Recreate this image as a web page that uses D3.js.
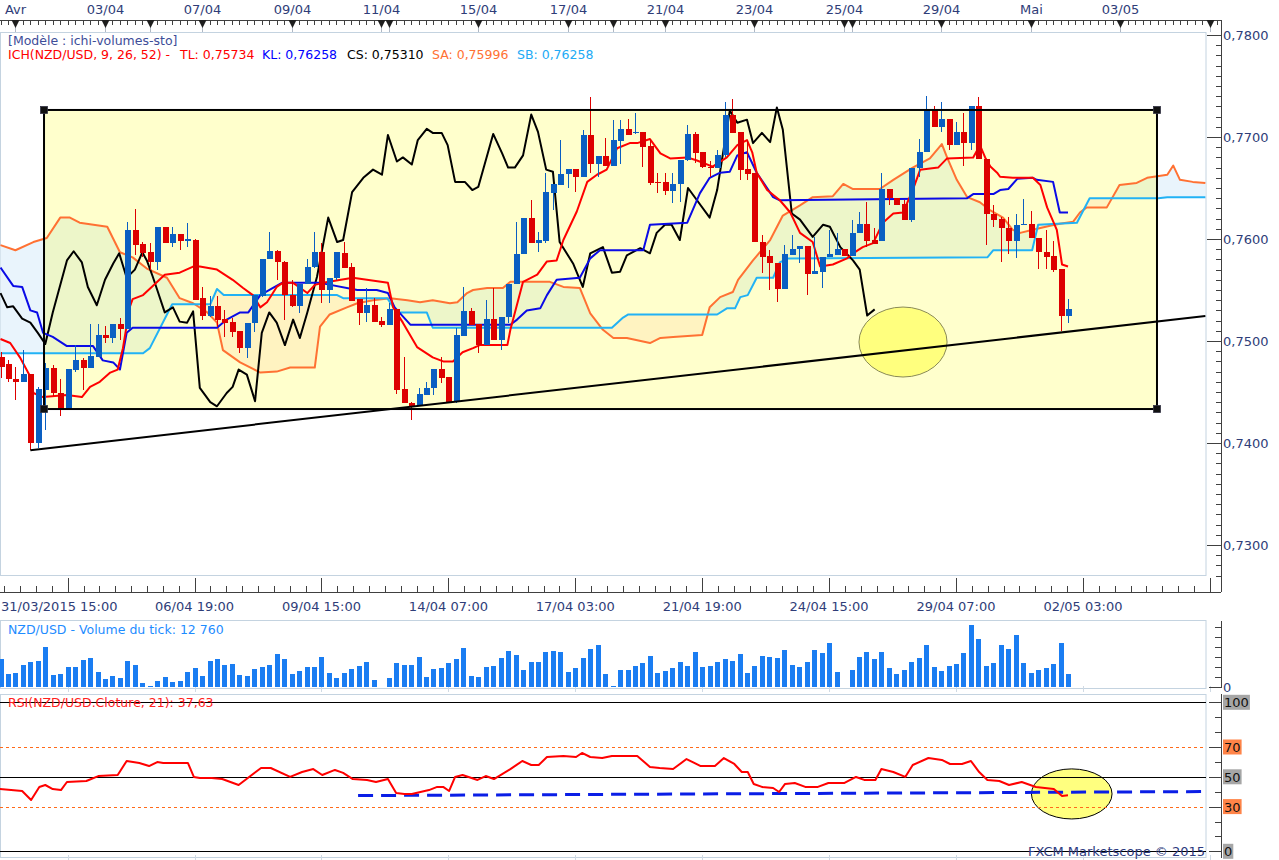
<!DOCTYPE html>
<html>
<head>
<meta charset="utf-8">
<script src="https://cdn.jsdelivr.net/npm/d3@7/dist/d3.min.js"></script>
<style>
body { margin: 0; background: #fff; }
svg { display: block; font-family: "DejaVu Sans", Verdana, sans-serif; }
</style>
</head>
<body>
<svg id="chart" width="1279" height="860"></svg>
<script>
// NZD/USD H4 candles, index 0 = first candle on screen
let candleOpen = [
  .7484,.7477,.7463,.7460,.7468,.7400,.7452,.7474,.7449,.7432,
  .7472,.7481,.7474,.7484,.7506,.7503,.7517,.7512,.7609,.7595,
  .7587,.7577,.7612,.7596,.7605,.7599,.7599,.7542,.7525,.7534,
  .7522,.7519,.7510,.7493,.7518,.7544,.7580,.7588,.7577,.7545,
  .7534,.7556,.7573,.7587,.7550,.7562,.7586,.7573,.7541,.7527,
  .7535,.7520,.7516,.7531,.7453,.7439,.7437,.7447,.7454,.7473,
  .7465,.7440,.7505,.7529,.7517,.7496,.7522,.7501,.7524,.7556,
  .7585,.7621,.7596,.7598,.7645,.7653,.7664,.7669,.7661,.7702,
  .7674,.7681,.7672,.7696,.7708,.7704,.7705,.7691,.7656,.7656,
  .7647,.7654,.7677,.7703,.7685,.7671,.7670,.7682,.7722,.7705,
  .7669,.7665,.7597,.7583,.7576,.7551,.7584,.7590,.7593,.7566,
  .7568,.7582,.7584,.7590,.7583,.7606,.7615,.7599,.7598,.7649,
  .7640,.7634,.7619,.7670,.7685,.7726,.7710,.7718,.7692,.7705,
  .7694,.7730,.7678,.7625,.7620,.7611,.7598,.7614,.7615,.7601,
  .7587,.7583,.7571,.7525
];
let candleHigh = [
  .7489,.7481,.7475,.7491,.7468,.7455,.7478,.7476,.7463,.7473,
  .7496,.7483,.7517,.7517,.7515,.7517,.7523,.7617,.7629,.7597,
  .7596,.7612,.7612,.7612,.7605,.7616,.7600,.7553,.7544,.7544,
  .7530,.7523,.7510,.7518,.7545,.7580,.7607,.7589,.7578,.7560,
  .7556,.7580,.7607,.7596,.7562,.7587,.7597,.7576,.7541,.7552,
  .7542,.7524,.7537,.7531,.7484,.7440,.7454,.7460,.7473,.7484,
  .7465,.7513,.7553,.7532,.7517,.7540,.7552,.7524,.7556,.7617,
  .7621,.7638,.7607,.7665,.7654,.7697,.7669,.7669,.7707,.7739,
  .7681,.7699,.7717,.7717,.7718,.7724,.7705,.7698,.7665,.7665,
  .7665,.7677,.7712,.7705,.7685,.7676,.7687,.7734,.7737,.7705,
  .7697,.7665,.7604,.7589,.7576,.7594,.7604,.7593,.7593,.7602,
  .7582,.7609,.7606,.7590,.7619,.7626,.7636,.7611,.7665,.7649,
  .7640,.7638,.7670,.7698,.7740,.7730,.7734,.7718,.7715,.7724,
  .7730,.7739,.7678,.7633,.7622,.7622,.7625,.7639,.7627,.7601,
  .7609,.7598,.7571,.7541
];
let candleLow = [
  .7464,.7460,.7442,.7460,.7393,.7395,.7413,.7446,.7426,.7432,
  .7470,.7452,.7474,.7484,.7498,.7498,.7501,.7512,.7584,.7582,
  .7570,.7570,.7596,.7592,.7589,.7592,.7540,.7521,.7524,.7514,
  .7504,.7504,.7488,.7483,.7509,.7543,.7580,.7560,.7521,.7533,
  .7527,.7556,.7572,.7537,.7537,.7560,.7572,.7539,.7516,.7519,
  .7519,.7514,.7516,.7448,.7439,.7423,.7437,.7447,.7447,.7459,
  .7440,.7439,.7505,.7516,.7488,.7496,.7501,.7491,.7518,.7556,
  .7585,.7596,.7587,.7596,.7628,.7653,.7650,.7646,.7661,.7665,
  .7661,.7672,.7672,.7674,.7702,.7703,.7671,.7653,.7645,.7643,
  .7635,.7636,.7676,.7675,.7670,.7661,.7670,.7680,.7704,.7658,
  .7658,.7597,.7567,.7550,.7538,.7551,.7584,.7576,.7545,.7566,
  .7552,.7582,.7584,.7583,.7583,.7606,.7592,.7595,.7598,.7633,
  .7633,.7619,.7617,.7661,.7685,.7710,.7705,.7687,.7692,.7672,
  .7687,.7678,.7594,.7612,.7577,.7585,.7581,.7614,.7601,.7571,
  .7571,.7568,.7510,.7518
];
let candleClose = [
  .7475,.7463,.7460,.7468,.7400,.7453,.7474,.7449,.7432,.7473,
  .7481,.7474,.7485,.7506,.7503,.7517,.7512,.7609,.7594,.7586,
  .7577,.7612,.7596,.7605,.7598,.7600,.7540,.7525,.7534,.7521,
  .7518,.7509,.7493,.7518,.7545,.7580,.7588,.7577,.7545,.7534,
  .7556,.7573,.7587,.7550,.7562,.7587,.7572,.7539,.7527,.7535,
  .7519,.7516,.7531,.7452,.7439,.7435,.7448,.7454,.7473,.7464,
  .7440,.7506,.7529,.7516,.7496,.7522,.7501,.7524,.7556,.7585,
  .7621,.7596,.7599,.7646,.7654,.7664,.7669,.7661,.7702,.7674,
  .7681,.7672,.7697,.7708,.7702,.7705,.7690,.7655,.7655,.7647,
  .7654,.7677,.7703,.7684,.7671,.7670,.7682,.7722,.7704,.7668,
  .7664,.7597,.7582,.7576,.7551,.7585,.7590,.7593,.7566,.7569,
  .7582,.7585,.7590,.7583,.7606,.7615,.7598,.7595,.7649,.7640,
  .7633,.7619,.7670,.7685,.7726,.7710,.7718,.7692,.7705,.7694,
  .7730,.7678,.7625,.7619,.7611,.7598,.7614,.7615,.7601,.7587,
  .7582,.7570,.7525,.7531
];
let tickVolume = [
  28000,13000,14000,22000,25000,26000,40000,12000,13000,20000,
  20000,27000,29000,15000,8000,11000,9000,26000,22000,4000,
  1000,6000,10000,5000,6000,15000,19000,11000,26000,28000,
  22000,23000,12000,11000,18000,20000,22000,33000,28000,13000,
  16000,20000,20000,30000,14000,9000,14000,18000,21000,25000,
  7000,500,9000,24000,22000,22000,30000,10000,18000,19000,
  24000,28000,39000,11000,10000,20000,21000,29000,36000,32000,
  17000,25000,25000,35000,36000,35000,15000,19000,29000,38000,
  42000,13000,1000,17000,17000,21000,
  24000,31000,14000,16000,19000,25000,21000,35000,20000,21000,
  25000,28000,26000,33000,14000,21000,31000,30000,29000,37000,
  22000,20000,25000,37000,34000,44000,15000,500,17000,30000,
  35000,28000,35000,19000,13000,17000,25000,29000,42000,20000,
  16000,21000,23000,34000,62000,48000,21000,24000,42000,38000,
  52000,24000,14000,17000,19000,23000,44000,12760
];

// ichimoku lines as [candle index, price]
let tenkan = [[0,.7502],[1.3,.7498],[2.6,.7484],[4.0,.7465],[4.4,.7449],[5.7,.7445],[8.9,.7447],[10.9,.7445],[12.0,.7455],[13.3,.7460],[14.7,.7469],[15.7,.7472],[16.4,.7493],[17.3,.7533],[17.7,.7541],[19.1,.7545],[20.4,.7554],[22.0,.7565],[24.0,.7567],[25.8,.7573],[26.7,.7573],[29.0,.7570],[31.1,.7560],[32.5,.7552],[33.8,.7545],[34.8,.7533],[35.7,.7538],[37.0,.7553],[37.8,.7557],[39.2,.7557],[41.1,.7547],[42.1,.7555],[43.2,.7557],[47.2,.7562],[51.9,.7557],[52.6,.7533],[53.9,.7518],[55.8,.7494],[57.9,.7484],[59.3,.7480],[60.6,.7480],[61.9,.7489],[63.3,.7493],[64.2,.7496],[67.9,.7496],[68.3,.7511],[70.0,.7558],[71.9,.7565],[73.2,.7578],[74.5,.7579],[75.4,.7599],[77.2,.7627],[78.6,.7656],[79.9,.7663],[81.2,.7668],[82.6,.7689],[84.3,.7694],[85.3,.7694],[87.0,.7698],[88.4,.7684],[89.7,.7679],[92.0,.7680],[93.3,.7677],[95.4,.7671],[97.3,.7680],[98.7,.7692],[100.0,.7697],[100.7,.7685],[101.3,.7665],[102.7,.7648],[104.4,.7638],[105.8,.7626],[107.1,.7606],[108.8,.7597],[109.8,.7573],[111.5,.7575],[113.4,.7581],[114.2,.7586],[115.5,.7592],[116.9,.7596],[118.2,.7616],[119.6,.7625],[120.9,.7626],[122.2,.7648],[123.2,.7668],[125.6,.7670],[126.8,.7679],[130.3,.7680],[131.2,.7692],[131.9,.7680],[132.6,.7671],[133.5,.7665],[133.9,.7661],[135.6,.7660],[138.3,.7660],[139.3,.7653],[140.2,.7631],[141.5,.7609],[142.2,.7575],[143.0,.7573]];
let kijun = [[0,.7572],[1.7,.7554],[2.9,.7553],[4.0,.7530],[4.9,.7528],[5.7,.7508],[7.0,.7504],[8.9,.7495],[12.4,.7495],[13.7,.7481],[15.1,.7479],[16.0,.7472],[16.9,.7508],[17.7,.7513],[29.0,.7513],[30.3,.7521],[32.1,.7528],[33.2,.7528],[34.8,.7545],[36.5,.7552],[37.7,.7557],[42.8,.7557],[47.8,.7550],[50.4,.7550],[51.9,.7547],[52.8,.7533],[54.9,.7516],[68.3,.7516],[69.2,.7521],[70.5,.7530],[72.3,.7532],[73.2,.7545],[74.5,.7560],[77.6,.7562],[79.0,.7581],[80.3,.7589],[86.1,.7589],[87.0,.7614],[92.0,.7616],[93.7,.7645],[95.0,.7660],[96.4,.7665],[97.7,.7666],[98.7,.7682],[100.0,.7685],[101.3,.7665],[103.5,.7641],[104.4,.7638],[129.5,.7640],[130.3,.7644],[133.0,.7644],[133.9,.7648],[135.0,.7649],[136.2,.7659],[138.3,.7660],[138.8,.7658],[141.0,.7656],[141.9,.7626],[143.0,.7626]];
let spanA = [[0,.7594],[2.0,.7589],[4.4,.7597],[6.2,.7601],[8.0,.7621],[9.3,.7621],[10.6,.7616],[14.3,.7612],[16.0,.7587],[17.7,.7582],[19.6,.7571],[22.3,.7562],[24.0,.7542],[25.8,.7537],[27.7,.7528],[29.0,.7518],[29.8,.7491],[32.1,.7479],[34.8,.7469],[37.0,.7470],[38.8,.7474],[42.1,.7474],[42.8,.7514],[44.1,.7526],[46.4,.7533],[47.8,.7537],[49.9,.7540],[52.2,.7542],[54.5,.7540],[56.2,.7538],[57.9,.7540],[60.2,.7537],[61.2,.7538],[62.5,.7547],[63.3,.7550],[65.2,.7552],[67.3,.7552],[68.3,.7558],[73.6,.7558],[75.4,.7553],[77.6,.7552],[79.0,.7527],[80.7,.7511],[82.1,.7503],[83.9,.7503],[87.0,.7498],[88.4,.7503],[90.1,.7504],[94.0,.7506],[95.0,.7533],[96.4,.7543],[98.1,.7548],[98.8,.7560],[100.8,.7579],[103.1,.7599],[104.8,.7623],[107.1,.7633],[108.8,.7641],[111.5,.7642],[112.9,.7654],[114.2,.7649],[117.8,.7649],[119.6,.7658],[122.2,.7670],[124.5,.7679],[126.1,.7693],[126.8,.7680],[128.1,.7658],[129.5,.7641],[131.2,.7636],[132.6,.7628],[134.3,.7621],[135.6,.7609],[136.6,.7606],[138.3,.7609],[140.6,.7613],[141.9,.7615],[143.7,.7617],[144.6,.7626],[145.5,.7631],[148.2,.7631],[149.9,.7653],[152.2,.7655],[153.6,.7660],[156.3,.7663],[157.1,.7672],[158.0,.7658],[159.7,.7656],[161.4,.7655]];
let spanB = [[0,.7488],[19.1,.7488],[20.0,.7493],[23.0,.7536],[28.1,.7536],[29.0,.7551],[29.9,.7545],[45.1,.7545],[45.9,.7542],[51.8,.7542],[53.1,.7528],[57.1,.7528],[57.9,.7513],[81.9,.7513],[83.4,.7523],[84.1,.7526],[96.0,.7526],[97.3,.7532],[98.4,.7532],[99.1,.7543],[100.1,.7545],[101.3,.7562],[103.5,.7562],[104.4,.7577],[105.5,.7581],[132.2,.7582],[133.0,.7589],[138.2,.7589],[139.0,.7614],[144.2,.7616],[145.9,.7640],[155.1,.7640],[156.3,.7641],[161.4,.7641]];
let chikou = [[0,.7547],[0.9,.7533],[1.7,.7534],[2.9,.7522],[4.0,.7518],[5.0,.7508],[6.0,.7497],[7.0,.7528],[8.9,.7579],[9.8,.7588],[10.9,.7577],[11.7,.7553],[12.9,.7535],[14.0,.7560],[15.1,.7576],[15.9,.7586],[16.9,.7562],[18.0,.7570],[19.0,.7587],[19.6,.7579],[20.4,.7563],[21.0,.7550],[22.0,.7528],[23.1,.7533],[24.0,.7519],[25.0,.7518],[25.8,.7529],[26.7,.7454],[28.1,.7440],[29.0,.7436],[30.3,.7449],[31.1,.7455],[31.9,.7472],[33.0,.7467],[34.1,.7441],[35.0,.7508],[36.0,.7528],[37.0,.7518],[38.1,.7496],[39.2,.7521],[40.1,.7503],[41.1,.7528],[42.4,.7563],[43.9,.7621],[45.1,.7597],[45.9,.7599],[47.1,.7646],[48.6,.7660],[49.9,.7668],[51.1,.7663],[51.9,.7702],[53.1,.7676],[53.9,.7680],[55.1,.7673],[55.9,.7697],[57.1,.7708],[57.9,.7704],[59.1,.7704],[59.9,.7692],[60.9,.7656],[62.2,.7656],[63.2,.7648],[64.0,.7651],[66.0,.7703],[67.2,.7684],[68.0,.7670],[68.9,.7670],[70.0,.7682],[71.1,.7722],[72.0,.7705],[73.1,.7668],[74.0,.7666],[74.9,.7597],[76.7,.7576],[78.0,.7553],[79.0,.7586],[80.7,.7592],[81.9,.7567],[83.0,.7568],[83.9,.7584],[85.7,.7591],[87.0,.7586],[87.9,.7606],[89.0,.7614],[89.9,.7614],[91.0,.7599],[92.1,.7650],[93.3,.7638],[95.0,.7621],[96.0,.7648],[97.7,.7726],[98.7,.7714],[100.0,.7717],[100.8,.7694],[102.0,.7704],[103.1,.7695],[104.0,.7729],[104.8,.7707],[106.0,.7625],[107.1,.7619],[108.8,.7602],[110.2,.7614],[111.1,.7612],[112.5,.7592],[114.2,.7579],[115.1,.7570],[116.1,.7525],[117.1,.7531]];

// RSI(21) as [candle index, value]
let rsi = [[-0.1,41.8],[2.9,40.5],[4.1,34.4],[5.2,43.2],[6.0,44.5],[7.0,41.8],[8.1,41.1],[8.9,46.5],[11.5,47.2],[13.1,50.5],[15.7,51.2],[16.9,60.6],[18.6,59.3],[19.9,57.2],[21.0,59.9],[21.8,59.3],[25.1,59.3],[25.9,49.9],[26.7,49.2],[28.3,49.2],[29.7,48.5],[31.9,44.5],[34.9,55.9],[36.2,55.9],[38.8,49.9],[40.4,53.2],[41.9,55.2],[43.1,51.2],[44.8,54.6],[45.9,52.6],[47.2,48.5],[49.1,47.9],[50.3,46.5],[51.9,48.5],[53.0,39.1],[54.1,38.5],[55.1,38.5],[57.4,41.1],[58.5,43.2],[59.3,43.2],[60.1,40.5],[60.9,49.9],[61.9,51.2],[63.9,47.9],[65.0,50.5],[66.1,48.5],[68.3,55.2],[69.9,60.6],[71.1,57.9],[72.1,57.9],[73.2,63.3],[75.4,64.0],[77.1,63.3],[77.9,66.0],[79.0,63.3],[80.6,62.6],[81.9,64.0],[85.3,64.0],[87.0,56.6],[88.3,55.9],[90.1,55.2],[91.9,61.9],[93.8,57.2],[95.7,57.2],[96.9,62.6],[98.3,58.6],[99.3,53.2],[100.1,53.2],[100.9,45.2],[102.0,43.2],[103.5,42.5],[104.3,39.8],[105.1,45.2],[106.4,45.8],[107.8,43.2],[109.5,43.2],[110.9,45.8],[113.0,45.8],[114.6,49.9],[115.7,47.9],[117.2,47.9],[118.0,55.2],[119.6,53.2],[121.2,49.9],[122.2,57.9],[124.3,62.6],[126.1,61.3],[127.2,58.6],[128.8,58.6],[130.0,60.6],[131.1,53.2],[132.2,47.9],[133.8,47.2],[135.1,44.5],[136.8,46.5],[138.7,43.2],[141.1,41.8],[142.2,37.1],[143.0,37.6]];

// drawings
let trendLine = [[4.0,.7393],[161.4,.75245]];
let boxCorners = [[5.83,.77265],[154.92,.74333]];
let priceEllipse = {cx: 120.9, cy: .7499, rx: 5.9, ry: .00343};
let rsiTrend = [[47.9,37.4],[161.6,40.1]];
let rsiEllipse = {cx: 143.5, cy: 38.5, rx: 5.4, ry: 16.8};

// axes labels
let priceTicks = [.78,.77,.76,.75,.74,.73];
let topTicks = [[2,'Avr'],[14,'03/04'],[20,''],[27,'07/04'],[39,'09/04'],[51,'11/04'],[52,''],[64,'15/04'],[76,'17/04'],[82,''],[89,'21/04'],[101,'23/04'],[113,'25/04'],[114,''],[126,'29/04'],[138,'Mai'],[150,'03/05'],[162,'']];
let bottomTicks = [[9,'31/03/2015 15:00'],[26,'06/04 19:00'],[43,'09/04 15:00'],[60,'14/04 07:00'],[77,'17/04 03:00'],[94,'21/04 19:00'],[111,'24/04 15:00'],[128,'29/04 07:00'],[145,'02/05 03:00'],[162,'']];
let rsiLevels = [100,70,50,30,0];

let svg = d3.select('#chart');

let plotRight = 1206;
let axisX = 1221;

let x = d3.scaleLinear().domain([0, 143]).range([0.5, 1068]);
let y = d3.scaleLinear().domain([0.78, 0.73]).range([35, 545]);
let yVol = d3.scaleLinear().domain([0, 10000]).range([687, 677]);
let yRsi = d3.scaleLinear().domain([0, 100]).range([851.3, 702.3]);

let axisColor = '#404040';
let textColor = '#2f3d78';
let frameColor = '#c4d3e0';

// frames
svg.append('rect').attr('x', 0.5).attr('y', 32.5).attr('width', plotRight - 0.5).attr('height', 543)
  .attr('fill', '#fff').attr('stroke', frameColor);
svg.append('rect').attr('x', 0.5).attr('y', 620.5).attr('width', plotRight - 0.5).attr('height', 68)
  .attr('fill', '#fff').attr('stroke', frameColor);
svg.append('rect').attr('x', 0.5).attr('y', 694.5).attr('width', plotRight - 0.5).attr('height', 163)
  .attr('fill', '#fff').attr('stroke', frameColor);

let defs = svg.append('defs');
defs.append('clipPath').attr('id', 'mainClip').append('rect')
  .attr('x', 0).attr('y', 33).attr('width', plotRight).attr('height', 542);
defs.append('clipPath').attr('id', 'rsiClip').append('rect')
  .attr('x', 0).attr('y', 695).attr('width', plotRight).attr('height', 162);

let pt = (d) => [x(d[0]), y(d[1])];

// cloud split along span B
let bPts = spanB.map(pt);
let aboveB = [[-20, bPts[0][1]]].concat(bPts, [[1300, bPts[bPts.length - 1][1]], [1300, -20], [-20, -20]]);
let belowB = [[-20, bPts[0][1]]].concat(bPts, [[1300, bPts[bPts.length - 1][1]], [1300, 900], [-20, 900]]);
defs.append('clipPath').attr('id', 'cloudUp').append('path').attr('d', 'M' + aboveB.join('L') + 'Z');
defs.append('clipPath').attr('id', 'cloudDown').append('path').attr('d', 'M' + belowB.join('L') + 'Z');

let main = svg.append('g').attr('clip-path', 'url(#mainClip)');
let cloudPath = 'M' + spanA.map(pt).concat(spanB.slice().reverse().map(pt)).join('L') + 'Z';
main.append('g').attr('clip-path', 'url(#cloudUp)').append('path')
  .attr('d', cloudPath).attr('fill', '#e9f4fc').attr('fill-rule', 'evenodd');
main.append('g').attr('clip-path', 'url(#cloudDown)').append('path')
  .attr('d', cloudPath).attr('fill', '#fff0f2').attr('fill-rule', 'evenodd');

// yellow box
let bx0 = x(boxCorners[0][0]), by0 = y(boxCorners[0][1]);
let bx1 = x(boxCorners[1][0]), by1 = y(boxCorners[1][1]);
main.append('rect').attr('x', bx0).attr('y', by0).attr('width', bx1 - bx0).attr('height', by1 - by0)
  .attr('fill', '#ffff00').attr('fill-opacity', 0.2);

// ellipse
main.append('ellipse')
  .attr('cx', x(priceEllipse.cx)).attr('cy', y(priceEllipse.cy))
  .attr('rx', x(priceEllipse.rx) - x(0)).attr('ry', y(0.78 - priceEllipse.ry) - y(0.78))
  .attr('fill', '#ffff00').attr('fill-opacity', 0.38).attr('stroke', '#8a8a55').attr('stroke-width', 1);

let line = d3.line().x((d) => x(d[0])).y((d) => y(d[1]));
let drawLine = (data, color) => {
  main.append('path').attr('d', line(data)).attr('fill', 'none')
    .attr('stroke', color).attr('stroke-width', 2).attr('stroke-linejoin', 'round');
};
drawLine(spanA, '#ff7133');
drawLine(spanB, '#22b2f5');
drawLine(chikou, '#000000');
drawLine(kijun, '#0a0ae6');
drawLine(tenkan, '#ff0000');

// candles
let idx = d3.range(candleOpen.length);
let candleColor = (i) => candleClose[i] >= candleOpen[i] ? '#0a5fc2' : '#dd0000';
let candles = main.append('g').attr('shape-rendering', 'crispEdges');
candles.selectAll('line').data(idx).enter().append('line')
  .attr('x1', (i) => Math.round(x(i)) + 0.5).attr('x2', (i) => Math.round(x(i)) + 0.5)
  .attr('y1', (i) => y(candleHigh[i])).attr('y2', (i) => y(candleLow[i]))
  .attr('stroke', candleColor);
candles.selectAll('rect').data(idx).enter().append('rect')
  .attr('x', (i) => Math.round(x(i)) - 2)
  .attr('y', (i) => y(Math.max(candleOpen[i], candleClose[i])))
  .attr('width', 6)
  .attr('height', (i) => Math.max(1.5, y(Math.min(candleOpen[i], candleClose[i])) - y(Math.max(candleOpen[i], candleClose[i]))))
  .attr('fill', candleColor);

// trend line and box outline
main.append('path').attr('d', line(trendLine)).attr('stroke', '#000').attr('stroke-width', 2).attr('fill', 'none');
main.append('rect').attr('x', bx0).attr('y', by0).attr('width', bx1 - bx0).attr('height', by1 - by0)
  .attr('fill', 'none').attr('stroke', '#000').attr('stroke-width', 2);
[[bx0, by0], [bx1, by0], [bx0, by1], [bx1, by1]].forEach((c) => {
  main.append('rect').attr('x', c[0] - 3.5).attr('y', c[1] - 3.5).attr('width', 7).attr('height', 7)
    .attr('fill', '#111').attr('stroke', '#334').attr('stroke-width', 0.8);
});

// legend
let legend = svg.append('g').style('font-size', '12.5px');
legend.append('text').attr('x', 8).attr('y', 44.5).attr('fill', '#3d4d98').text('[Modèle : ichi-volumes-sto]');
[[8, '#ff0000', 'ICH(NZD/USD, 9, 26, 52) -'], [180, '#ff0000', 'TL: 0,75734'], [262, '#0000ff', 'KL: 0,76258'],
 [347, '#000000', 'CS: 0,75310'], [432, '#ff7133', 'SA: 0,75996'], [517, '#22aaf5', 'SB: 0,76258']]
  .forEach((l) => {
    legend.append('text').attr('x', l[0]).attr('y', 58.5).attr('fill', l[1]).text(l[2]);
  });

// price axis
let pAxis = svg.append('g').attr('shape-rendering', 'crispEdges');
pAxis.append('line').attr('x1', axisX + 0.5).attr('x2', axisX + 0.5).attr('y1', 20).attr('y2', 592).attr('stroke', axisColor);
d3.range(727, 782).forEach((k) => {
  let yy = Math.round(y(k / 1000)) + 0.5;
  if (yy < 32 || yy > 578) return;
  let major = k % 10 === 0;
  pAxis.append('line').attr('x1', major ? 1207 : 1216).attr('x2', axisX).attr('y1', yy).attr('y2', yy).attr('stroke', axisColor);
});
svg.append('g').selectAll('text').data(priceTicks).enter().append('text')
  .attr('x', 1223).attr('y', (p) => y(p) + 5)
  .attr('fill', textColor).style('font-size', '13px')
  .text((p) => p.toFixed(4).replace('.', ','));

// top axis
let tAxis = svg.append('g').attr('shape-rendering', 'crispEdges');
tAxis.append('line').attr('x1', 0).attr('x2', axisX).attr('y1', 20.5).attr('y2', 20.5).attr('stroke', axisColor);
d3.range(0, 164).forEach((i) => {
  let xx = Math.round(x(i)) + 0.5;
  if (xx > axisX) return;
  tAxis.append('line').attr('x1', xx).attr('x2', xx).attr('y1', 20).attr('y2', 25).attr('stroke', axisColor);
});
topTicks.forEach((t) => {
  let xx = Math.round(x(t[0])) + 0.5;
  svg.append('line').attr('x1', xx).attr('x2', xx).attr('y1', 26).attr('y2', 32).attr('stroke', '#b0b8c4');
  svg.append('path').attr('d', 'M' + (xx - 4) + ',20L' + (xx + 4) + ',20L' + xx + ',28Z').attr('fill', '#1e1e1e');
  if (t[1]) {
    svg.append('text').attr('x', xx).attr('y', 14).attr('text-anchor', 'middle')
      .attr('fill', textColor).style('font-size', '13px').text(t[1]);
  }
});

// bottom time axis
let bAxis = svg.append('g').attr('shape-rendering', 'crispEdges');
bAxis.append('line').attr('x1', 0).attr('x2', axisX).attr('y1', 592.5).attr('y2', 592.5).attr('stroke', axisColor);
let step = 17 / 8;
for (let t = 9 - 4 * step; t <= 163; t += step) {
  let xx = Math.round(x(t)) + 0.5;
  if (xx < 0 || xx > axisX) continue;
  let major = Math.abs(((t - 9) / 17) - Math.round((t - 9) / 17)) < 0.01;
  bAxis.append('line').attr('x1', xx).attr('x2', xx).attr('y1', major ? 578 : 586).attr('y2', 592).attr('stroke', axisColor);
  if (major) {
    svg.append('line').attr('x1', xx).attr('x2', xx).attr('y1', 686).attr('y2', 692).attr('stroke', '#d0dae4');
    svg.append('line').attr('x1', xx).attr('x2', xx).attr('y1', 855).attr('y2', 860).attr('stroke', '#d0dae4');
  }
}
bottomTicks.forEach((t, n) => {
  if (!t[1]) return;
  svg.append('text').attr('x', n === 0 ? 1 : x(t[0])).attr('y', 611)
    .attr('text-anchor', n === 0 ? 'start' : 'middle')
    .attr('fill', textColor).style('font-size', '13px').text(t[1]);
});

// volume panel
svg.append('g').attr('shape-rendering', 'crispEdges').selectAll('rect').data(idx).enter().append('rect')
  .attr('x', (i) => Math.round(x(i)) - 2)
  .attr('y', (i) => yVol(tickVolume[i]))
  .attr('width', 5)
  .attr('height', (i) => yVol(0) - yVol(tickVolume[i]))
  .attr('fill', '#1a7df2');
svg.append('text').attr('x', 8).attr('y', 633.5).attr('fill', '#1e8cff').style('font-size', '12.5px')
  .text('NZD/USD - Volume du tick: 12 760');
let vAxis = svg.append('g').attr('shape-rendering', 'crispEdges');
vAxis.append('line').attr('x1', axisX + 0.5).attr('x2', axisX + 0.5).attr('y1', 621).attr('y2', 688).attr('stroke', axisColor);
d3.range(0, 70000, 10000).forEach((v) => {
  let yy = Math.round(yVol(v)) + 0.5;
  vAxis.append('line').attr('x1', v === 0 ? 1209 : 1215).attr('x2', axisX).attr('y1', yy).attr('y2', yy).attr('stroke', axisColor);
});
svg.append('text').attr('x', 1223).attr('y', 691.5).attr('fill', textColor).style('font-size', '13px').text('0');

// RSI panel
let rsiG = svg.append('g').attr('clip-path', 'url(#rsiClip)');
rsiG.append('ellipse')
  .attr('cx', x(rsiEllipse.cx)).attr('cy', yRsi(rsiEllipse.cy))
  .attr('rx', x(rsiEllipse.rx) - x(0)).attr('ry', yRsi(0) - yRsi(rsiEllipse.ry))
  .attr('fill', '#ffff00').attr('fill-opacity', 0.5).attr('stroke', '#000').attr('stroke-width', 1);
rsiLevels.forEach((v) => {
  let dotted = v === 70 || v === 30;
  let yy = Math.round(yRsi(v)) + 0.5;
  rsiG.append('line').attr('x1', 0).attr('x2', plotRight).attr('y1', yy).attr('y2', yy)
    .attr('stroke', dotted ? '#ff6a1a' : '#000').attr('stroke-width', dotted ? 1.2 : 1)
    .attr('stroke-dasharray', dotted ? '3,3' : null);
});
let rsiLine = d3.line().x((d) => x(d[0])).y((d) => yRsi(d[1]));
rsiG.append('path').attr('d', rsiLine(rsiTrend)).attr('fill', 'none')
  .attr('stroke', '#0a1ee6').attr('stroke-width', 3).attr('stroke-dasharray', '15,8');
rsiG.append('path').attr('d', rsiLine(rsi)).attr('fill', 'none')
  .attr('stroke', '#ff0000').attr('stroke-width', 2).attr('stroke-linejoin', 'round');

svg.append('text').attr('x', 8).attr('y', 706.5).attr('fill', '#ff2020').style('font-size', '12.5px')
  .text('RSI(NZD/USD.Cloture, 21): 37,63');

let rAxis = svg.append('g').attr('shape-rendering', 'crispEdges');
rAxis.append('line').attr('x1', axisX + 0.5).attr('x2', axisX + 0.5).attr('y1', 694).attr('y2', 858).attr('stroke', axisColor);
d3.range(0, 101, 10).forEach((v) => {
  let yy = Math.round(yRsi(v)) + 0.5;
  let labeled = rsiLevels.indexOf(v) >= 0;
  rAxis.append('line').attr('x1', labeled ? 1209 : 1215).attr('x2', axisX).attr('y1', yy).attr('y2', yy).attr('stroke', axisColor);
});
rsiLevels.forEach((v) => {
  let label = String(v);
  let w = label.length * 8.3 + 2;
  svg.append('rect').attr('x', 1223).attr('y', yRsi(v) - 7.5).attr('width', w).attr('height', 15)
    .attr('fill', (v === 70 || v === 30) ? '#ff8448' : '#a6a6a6');
  svg.append('text').attr('x', 1224).attr('y', yRsi(v) + 5).attr('fill', '#111').style('font-size', '13px').text(label);
});

svg.append('text').attr('x', 1205).attr('y', 856).attr('text-anchor', 'end')
  .attr('fill', '#2c3a80').style('font-size', '13px').text('FXCM Marketscope © 2015');
</script>
</body>
</html>
